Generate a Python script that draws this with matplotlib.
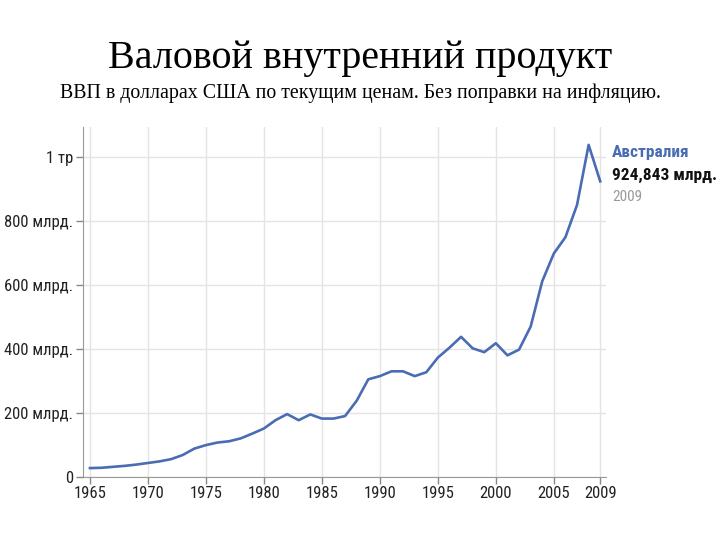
import matplotlib
matplotlib.use("Agg")
import matplotlib.pyplot as plt

# GDP of Australia, current US$, billions
years = list(range(1965, 2010))
gdp_bn = [
    27, 28, 31, 34, 38, 43, 48, 55, 68, 88,
    99, 107, 111, 120, 135, 151, 177, 196, 177, 195,
    182, 182, 190, 238, 305, 315, 330, 330, 315, 327,
    373, 404, 438, 402, 390, 418, 380, 398, 470, 612,
    699, 750, 851, 1039, 924.843,
]

x_ticks = [1965, 1970, 1975, 1980, 1985, 1990, 1995, 2000, 2005, 2009]
y_ticks = [0, 200, 400, 600, 800, 1000]
y_tick_labels = ["0", "200 млрд.", "400 млрд.", "600 млрд.", "800 млрд.", "1 тр"]

title = "Валовой внутренний продукт"
subtitle = "ВВП в долларах США по текущим ценам. Без поправки на инфляцию."
series_name = "Австралия"
last_value = "924,843 млрд."
last_year = "2009"

LINE_COLOR = "#4a6cb3"
NARROW = ["Roboto Condensed", "PT Sans Narrow", "Archivo Narrow", "Liberation Sans", "DejaVu Sans"]
SERIF = ["Liberation Serif", "DejaVu Serif"]


def main() -> None:
    fig = plt.figure(figsize=(7.2, 5.4), dpi=100)
    ax = fig.add_axes([0.1153, 0.1172, 0.7264, 0.6476])

    ax.plot(years, gdp_bn, color=LINE_COLOR, linewidth=1.9)

    ax.set_xlim(1964.4, 2009.5)
    ax.set_ylim(0, 1095)
    ax.set_xticks(x_ticks)
    ax.set_xticklabels([str(y) for y in x_ticks], family=NARROW, fontsize=12, color="#222222")
    ax.set_yticks(y_ticks)
    ax.set_yticklabels(y_tick_labels, family=NARROW, fontsize=12, color="#222222")
    ax.tick_params(axis="both", length=5, width=1, color="#888888", pad=2)

    ax.grid(True, color="#e4e4e4", linewidth=1)
    ax.set_axisbelow(True)
    for side in ("top", "right"):
        ax.spines[side].set_visible(False)
    for side in ("left", "bottom"):
        ax.spines[side].set_color("#999999")

    # positions below are in figure pixels
    fig.text(360, 540 - 68, title, family=SERIF, fontsize=28.8, ha="center",
             va="baseline", transform=None)
    fig.text(360, 540 - 98, subtitle, family=SERIF, fontsize=14.3, ha="center",
             va="baseline", transform=None)

    fig.text(612, 540 - 152, series_name, family=NARROW, fontsize=12.5, fontweight="bold",
             color=LINE_COLOR, va="center", transform=None)
    fig.text(612, 540 - 175, last_value, family=NARROW, fontsize=12.5, fontweight="bold",
             color="#111111", va="center", transform=None)
    fig.text(612, 540 - 197, last_year, family=NARROW, fontsize=11,
             color="#999999", va="center", transform=None)

    fig.savefig("out.png", dpi=100)
    plt.close(fig)


if __name__ == "__main__":
    main()
